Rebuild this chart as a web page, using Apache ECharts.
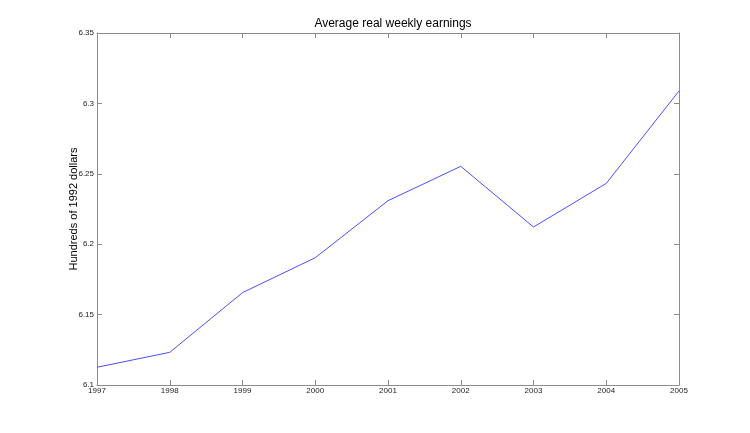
<!DOCTYPE html>
<html>
<head>
<meta charset="utf-8">
<script src="https://cdn.jsdelivr.net/npm/echarts@6/dist/echarts.min.js"></script>
<style>
html,body{margin:0;padding:0;background:#fff;}
#chart{width:750px;height:433px;}
</style>
</head>
<body>
<div id="chart"></div>
<script>
var years = [1997, 1998, 1999, 2000, 2001, 2002, 2003, 2004, 2005];
var earnings = [6.1126, 6.1232, 6.1656, 6.1904, 6.2309, 6.2553, 6.2122, 6.2432, 6.3088];
var titleText = 'Average real weekly earnings';
var yName = 'Hundreds of 1992 dollars';

var chart = echarts.init(document.getElementById('chart'));
var axisColor = '#8c8c8c';
var labelStyle = {color: '#222', fontSize: 8, fontFamily: 'Liberation Sans, Arial, sans-serif'};
var data = years.map(function (y, i) { return [y, earnings[i]]; });

chart.setOption({
  animation: false,
  backgroundColor: '#ffffff',
  title: {
    text: titleText,
    left: 388, textAlign: 'center',
    top: 13,
    textStyle: {fontSize: 12, fontWeight: 'normal', color: '#000', fontFamily: 'Liberation Sans, Arial, sans-serif'}
  },
  grid: {left: 97, top: 33, right: 71, bottom: 48, containLabel: false},
  xAxis: [{
    type: 'value', min: 1997, max: 2005, interval: 1, position: 'bottom',
    axisLine: {show: true, lineStyle: {color: axisColor, width: 1}},
    axisTick: {show: true, inside: true, length: 5, lineStyle: {color: axisColor}},
    axisLabel: Object.assign({margin: 2, formatter: function (v) { return String(v); }}, labelStyle),
    splitLine: {show: false}
  }, {
    type: 'value', min: 1997, max: 2005, interval: 1, position: 'top',
    axisLine: {show: true, lineStyle: {color: axisColor, width: 1}},
    axisTick: {show: true, inside: true, length: 5, lineStyle: {color: axisColor}},
    axisLabel: {show: false},
    splitLine: {show: false}
  }],
  yAxis: [{
    type: 'value', min: 6.1, max: 6.35, interval: 0.05, position: 'left',
    name: yName, nameLocation: 'middle', nameGap: 18, nameRotate: 90, nameMoveOverlap: false,
    nameTextStyle: {fontSize: 11, color: '#000', fontFamily: 'Liberation Sans, Arial, sans-serif'},
    axisLine: {show: true, lineStyle: {color: axisColor, width: 1}},
    axisTick: {show: true, inside: true, length: 5, lineStyle: {color: axisColor}},
    axisLabel: Object.assign({margin: 3, formatter: function (v) { return String(parseFloat(v.toFixed(2))); }}, labelStyle),
    splitLine: {show: false}
  }, {
    type: 'value', min: 6.1, max: 6.35, interval: 0.05, position: 'right',
    axisLine: {show: true, lineStyle: {color: axisColor, width: 1}},
    axisTick: {show: true, inside: true, length: 5, lineStyle: {color: axisColor}},
    axisLabel: {show: false},
    splitLine: {show: false}
  }],
  series: [{
    type: 'line',
    xAxisIndex: 0, yAxisIndex: 0,
    data: data,
    showSymbol: false,
    symbol: 'none',
    lineStyle: {color: '#4d4dff', width: 1},
    silent: true
  }]
});
</script>
</body>
</html>
